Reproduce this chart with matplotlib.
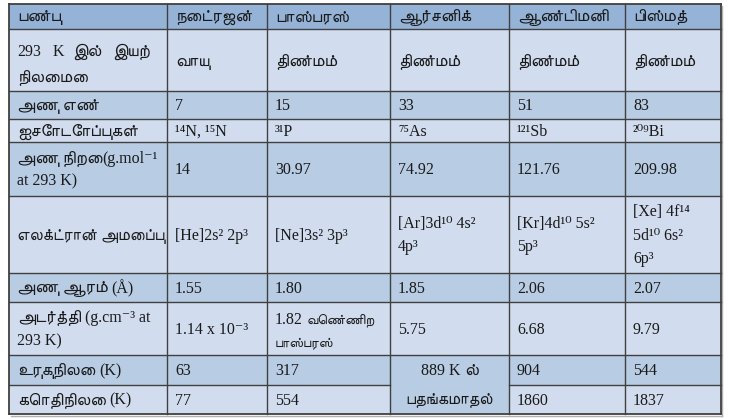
import matplotlib
matplotlib.use("Agg")
import matplotlib.pyplot as plt
from matplotlib.patches import Rectangle

# ---------------- data ----------------
headers = ['பண்பு', 'நைட்ரஜன்', 'பாஸ்பரஸ்', 'ஆர்சனிக்', 'ஆண்டிமனி', 'பிஸ்மத்']
properties = [
    '293 K இல் இயற்\nநிலைமை',
    'அணு எண்',
    'ஐசோடோப்புகள்',
    'அணு நிறை(g.mol⁻¹\nat 293 K)',
    'எலக்ட்ரான் அமைப்பு',
    'அணு ஆரம் (Å)',
    'அடர்த்தி (g.cm⁻³ at\n293 K)',
    'உருகுநிலை (K)',
    'கொதிநிலை (K)',
]
physical_state = ['வாயு', 'திண்மம்', 'திண்மம்', 'திண்மம்', 'திண்மம்']
atomic_number = ['7', '15', '33', '51', '83']
isotopes = ['¹⁴N, ¹⁵N', '³¹P', '⁷⁵As', '¹²¹Sb', '²⁰⁹Bi']
atomic_mass = ['14', '30.97', '74.92', '121.76', '209.98']
electron_config = ['[He]2s² 2p³', '[Ne]3s² 3p³', '[Ar]3d¹⁰ 4s²\n4p³',
                   '[Kr]4d¹⁰ 5s²\n5p³', '[Xe] 4f¹⁴\n5d¹⁰ 6s²\n6p³']
atomic_radius = ['1.55', '1.80', '1.85', '2.06', '2.07']
density = ['1.14 x 10⁻³', '1.82 வெண்ணிற\nபாஸ்பரஸ்', '5.75', '6.68', '9.79']
melting_point = ['63', '317', '889 K ல்\nபதங்கமாதல்', '904', '544']
boiling_point = ['77', '554', None, '1860', '1837']

rows = [physical_state, atomic_number, isotopes, atomic_mass, electron_config,
        atomic_radius, density, melting_point, boiling_point]

# ---------------- layout (pixels) ----------------
col_edges = [9, 167, 267, 390, 509, 625, 721]
row_edges = [4, 29, 91, 119, 142, 196, 273, 302, 355, 385, 414]

HEAD = '#95b3d7'
MID = '#b8cce4'
LIGHT = '#d1ddef'
LINE = '#404040'
TXT = '#1a1a1a'

TAMIL = 'FreeSans'
SERIF = ['Liberation Serif', 'DejaVu Serif', TAMIL]
TSIZE = 12.6
SSIZE = 11.5
SPACE = 3.6

fig = plt.figure(figsize=(7.29, 4.19), dpi=100)
ax = fig.add_axes([0, 0, 1, 1])
ax.set_xlim(0, 729)
ax.set_ylim(419, 0)
ax.axis('off')
renderer = fig.canvas.get_renderer()


def is_tamil_char(ch):
    return '\u0b80' <= ch <= '\u0bff'


def split_runs(s):
    """Split a string into (text, is_tamil, space_before) runs."""
    runs = []
    cur, cur_t, space_before = '', None, False
    pending_space = False
    for ch in s:
        if ch == ' ':
            pending_space = True
            continue
        t = is_tamil_char(ch)
        if cur and (t != cur_t):
            runs.append((cur, cur_t, space_before))
            cur, space_before = '', pending_space
            pending_space = False
        if pending_space and cur:
            cur += ' '
            pending_space = False
        elif pending_space and not cur:
            space_before = space_before or bool(runs)
            pending_space = False
        cur += ch
        cur_t = t
    if cur:
        runs.append((cur, cur_t, space_before))
    return runs


def put(x, y, s, ha='left', tsize=TSIZE, ssize=SSIZE):
    texts = []
    xx = x
    for txt, t, sp in split_runs(s):
        if sp:
            xx += SPACE
        artist = ax.text(xx, y, txt, ha='left', va='center',
                         family=[TAMIL] if t else SERIF,
                         fontsize=tsize if t else ssize, color=TXT)
        w = artist.get_window_extent(renderer).width
        texts.append(artist)
        xx += w
    if ha == 'center':
        shift = (xx - x) / 2
        for a in texts:
            a.set_x(a.get_position()[0] - shift)


def draw_lines(x, yc, text, gap, **kw):
    lines = text.split('\n')
    n = len(lines)
    for i, ln in enumerate(lines):
        put(x, yc + (i - (n - 1) / 2) * gap, ln, **kw)


ncol = len(col_edges) - 1
nrow = len(row_edges) - 1

# backgrounds
for r in range(nrow):
    c = HEAD if r == 0 else (MID if r % 2 == 0 else LIGHT)
    ax.add_patch(Rectangle((col_edges[0], row_edges[r]),
                           col_edges[-1] - col_edges[0],
                           row_edges[r + 1] - row_edges[r],
                           facecolor=c, edgecolor='none', zorder=0))

# merged cell (arsenic, melting + boiling)
mc = 3
ax.add_patch(Rectangle((col_edges[mc], row_edges[8]),
                       col_edges[mc + 1] - col_edges[mc],
                       row_edges[10] - row_edges[8],
                       facecolor=MID, edgecolor='none', zorder=0.5))

# grid lines
for r, y in enumerate(row_edges):
    if r == 9:
        ax.plot([col_edges[0], col_edges[mc]], [y, y], color=LINE, lw=1.0, zorder=2)
        ax.plot([col_edges[mc + 1], col_edges[-1]], [y, y], color=LINE, lw=1.0, zorder=2)
    else:
        ax.plot([col_edges[0], col_edges[-1]], [y, y], color=LINE,
                lw=1.3 if r in (0, nrow) else 1.0, zorder=2)
for c, x in enumerate(col_edges):
    ax.plot([x, x], [row_edges[0], row_edges[-1]], color=LINE,
            lw=1.3 if c in (0, ncol) else 1.0, zorder=2)
# soft shadow on right / bottom
ax.plot([col_edges[-1] + 1.5] * 2, [row_edges[0] + 2, row_edges[-1] + 1.5],
        color='#b0b0b0', lw=1.0, zorder=1)
ax.plot([col_edges[0] + 2, col_edges[-1] + 1.5], [row_edges[-1] + 1.5] * 2,
        color='#b0b0b0', lw=1.0, zorder=1)

PAD = 8

# header
for c, h in enumerate(headers):
    put(col_edges[c] + PAD, (row_edges[0] + row_edges[1]) / 2 + 0.5, h)

# property labels
for r, p in enumerate(properties):
    y0, y1 = row_edges[r + 1], row_edges[r + 2]
    yc = (y0 + y1) / 2
    if r == 0:
        first, second = p.split('\n')
        words = first.split(' ')
        xs = [17, 53, 72, 112]          # justified first line
        for w, xx in zip(words, xs):
            put(xx, yc - 8, w)
        put(col_edges[0] + PAD, yc + 18, second)
    elif r == 4:
        draw_lines(col_edges[0] + PAD, yc + 1, p, 23, tsize=11.9)
    else:
        draw_lines(col_edges[0] + PAD, yc + 1, p, 23)

# data cells
for r, vals in enumerate(rows):
    y0, y1 = row_edges[r + 1], row_edges[r + 2]
    yc = (y0 + y1) / 2
    for c, v in enumerate(vals):
        if v is None:
            continue
        x = col_edges[c + 1] + PAD
        if r == 7 and c == 2:
            xm = (col_edges[mc] + col_edges[mc + 1]) / 2
            l1, l2 = v.split('\n')
            put(xm, (row_edges[8] + row_edges[9]) / 2 + 1, l1, ha='center')
            put(xm, (row_edges[9] + row_edges[10]) / 2 + 0.5, l2, ha='center', tsize=12)
            continue
        if r == 6 and c == 1:
            l1, l2 = v.split('\n')
            put(x, yc - 9, l1, tsize=10)
            put(x, yc + 14, l2, tsize=10)
            continue
        off = 2 if r == 0 else 1
        draw_lines(x, yc + off, v, 23.5)

fig.savefig("out.png", dpi=100)
